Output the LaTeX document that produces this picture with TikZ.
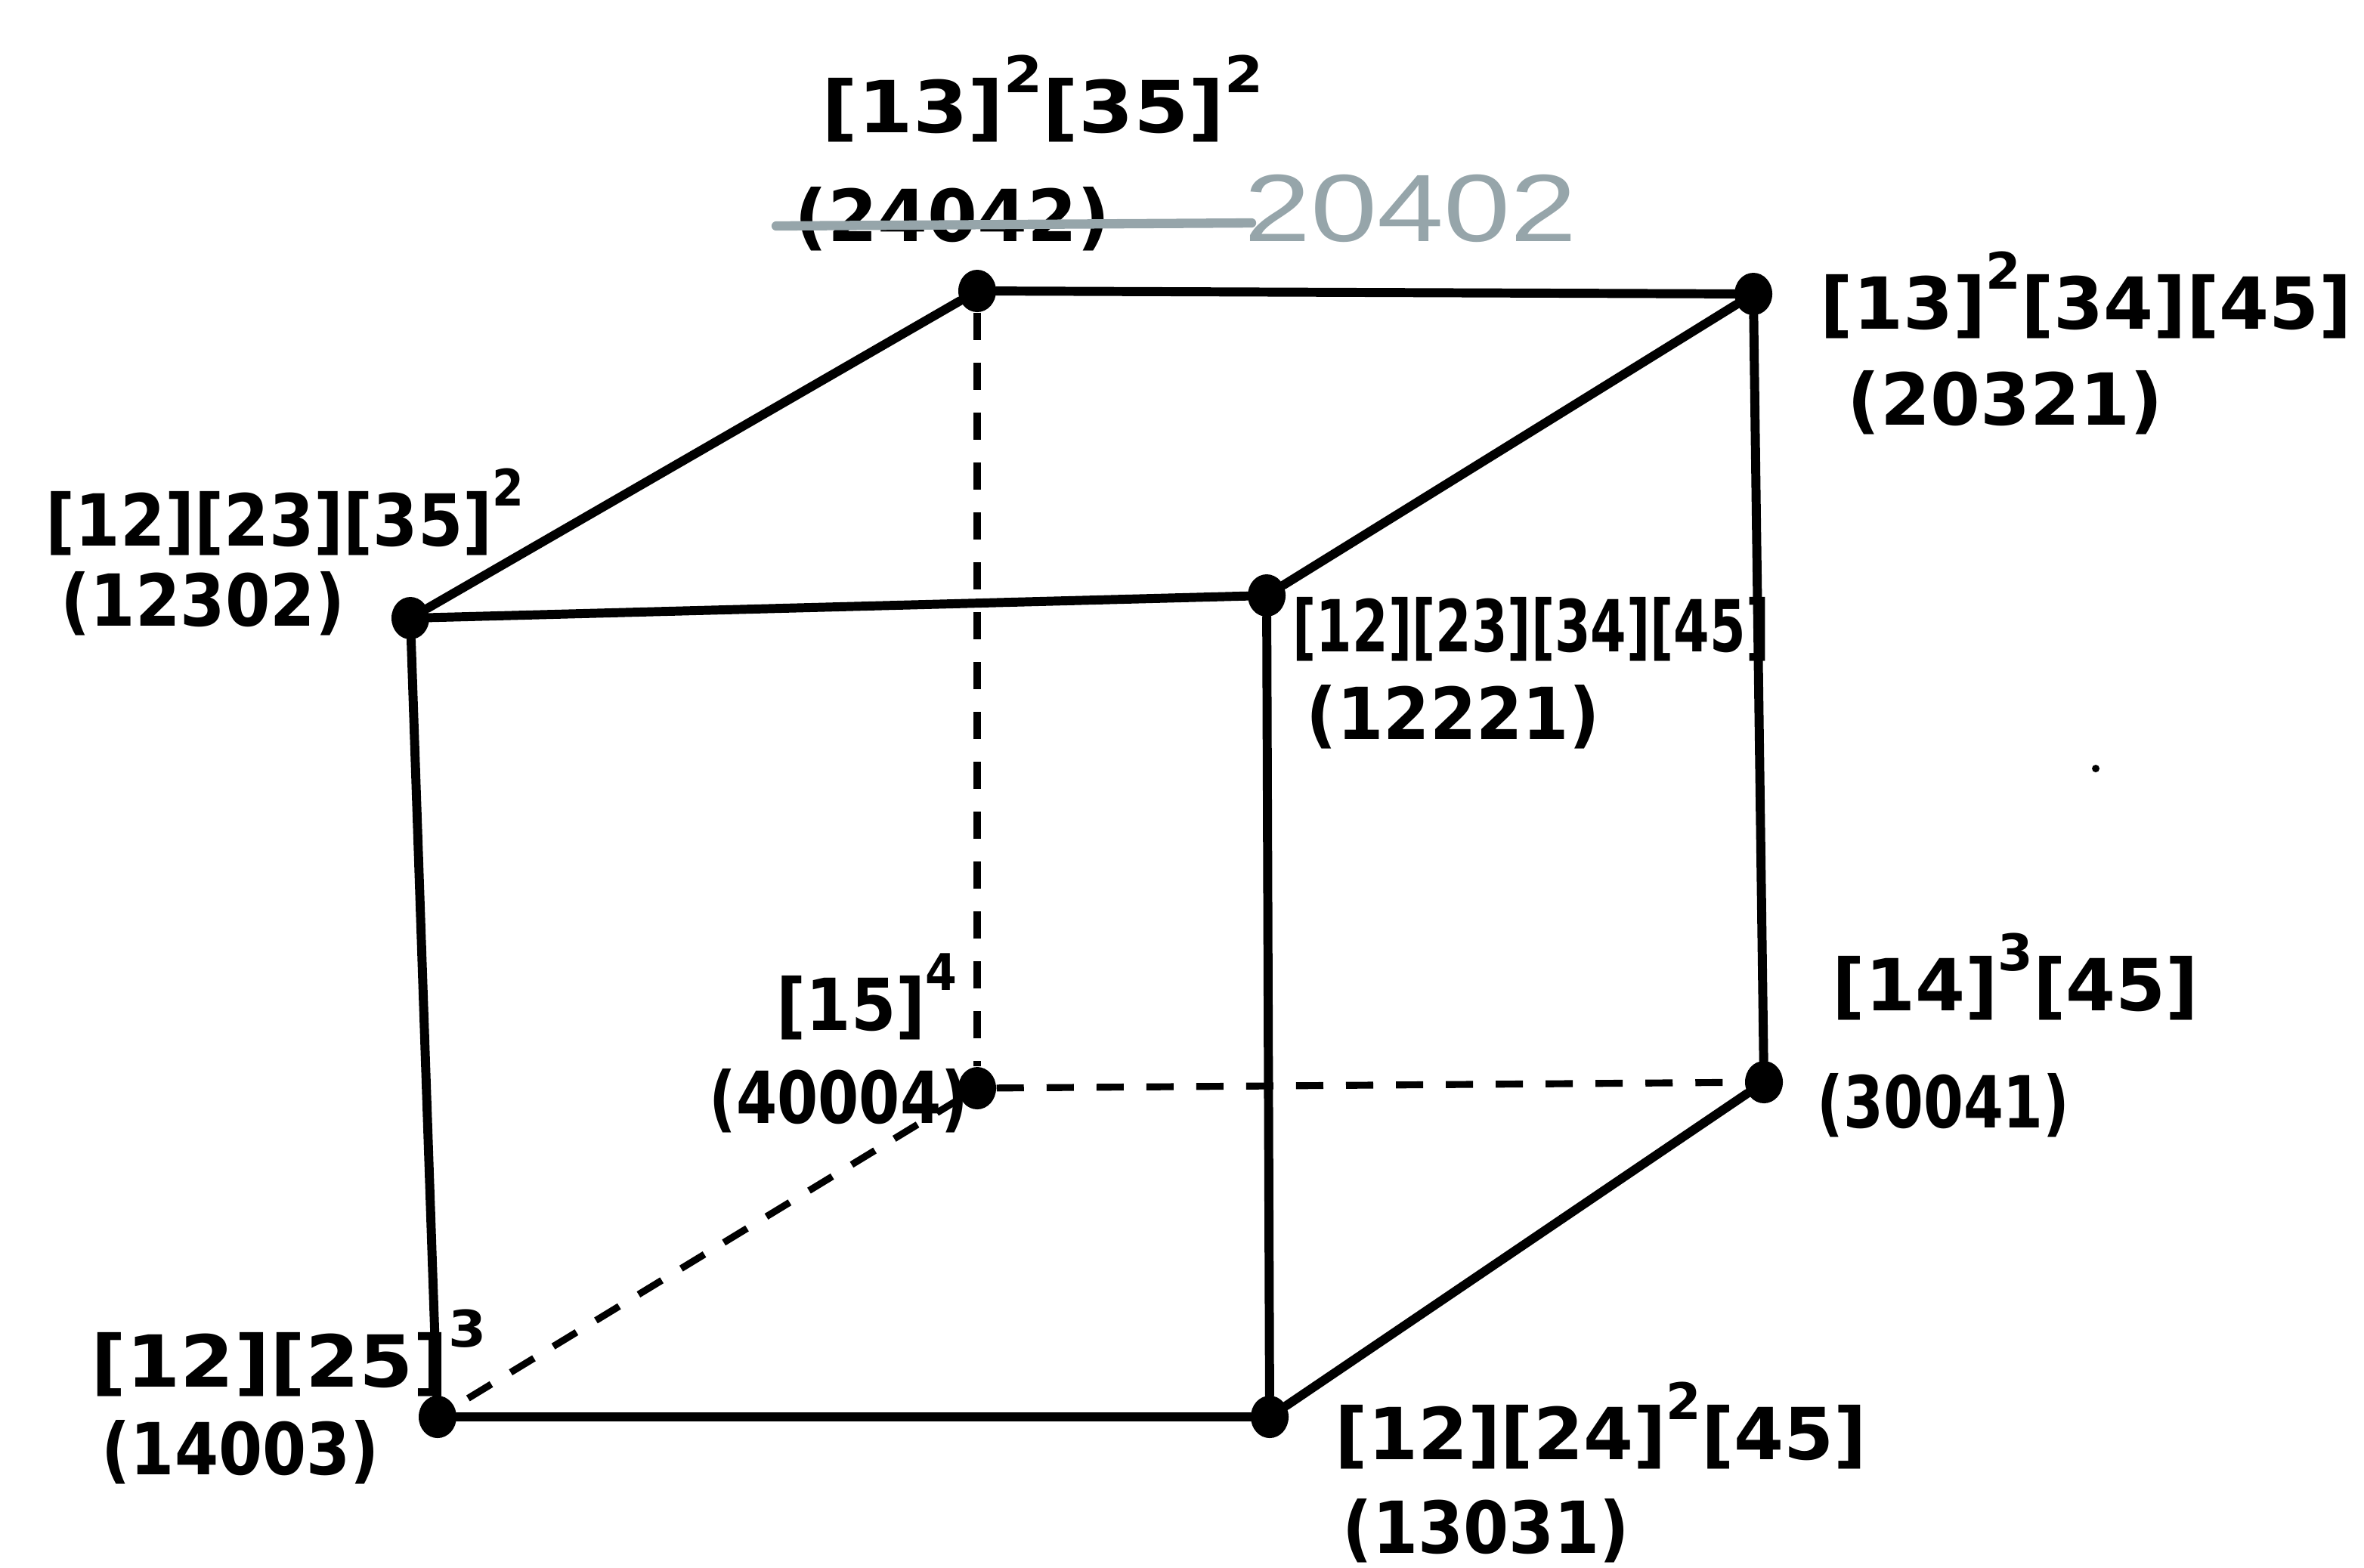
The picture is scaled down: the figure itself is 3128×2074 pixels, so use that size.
\documentclass[tikz,border=0pt]{standalone}
\usepackage{fontspec}
\usetikzlibrary{shapes.geometric}
\setmainfont{DejaVu Sans}
\newfontfamily\grayfont{Liberation Sans}
\newcommand\pw[1]{\raisebox{0.55em}{\fontsize{19}{19}\selectfont #1}}
\newcommand\sx[2]{\scalebox{#1}[1]{#2}}
\definecolor{pencil}{RGB}{150,165,170}
\begin{document}
\begin{tikzpicture}[x=0.01cm,y=-0.01cm,
  vtx/.style={ellipse,fill=black,inner sep=0pt,minimum width=0.5cm,minimum height=0.56cm},
  edge/.style={line width=3.4pt,line cap=round},
  hidden/.style={line width=2.6pt,dash pattern=on 0.36cm off 0.3cm},
  lbl/.style={anchor=base west,inner sep=0pt,font=\fontsize{27}{30}\selectfont\bfseries}]
\useasboundingbox (0,0) rectangle (3128,2074);
% vertices
\node[vtx] (tbl) at (1293,385) {};
\node[vtx] (tbr) at (2320,389) {};
\node[vtx] (ftl) at (543,818) {};
\node[vtx] (ftr) at (1676,788) {};
\node[vtx] (bbl) at (1293,1440) {};
\node[vtx] (bbr) at (2334,1432) {};
\node[vtx] (fbl) at (579,1875) {};
\node[vtx] (fbr) at (1680,1875) {};
\node[circle,fill=black,inner sep=0pt,minimum size=0.1cm] (speck) at (2773,1017) {};
% solid edges
\draw[edge] (tbl) -- (tbr);
\draw[edge] (tbl) -- (ftl);
\draw[edge] (ftl) -- (ftr);
\draw[edge] (ftr) -- (tbr);
\draw[edge] (tbr) -- (bbr);
\draw[edge] (ftl) -- (fbl);
\draw[edge] (ftr) -- (fbr);
\draw[edge] (fbl) -- (fbr);
\draw[edge] (fbr) -- (bbr);
% hidden edges
\draw[hidden] (tbl) -- (bbl);
\draw[hidden] (bbl) -- (bbr);
\draw[hidden] (bbl) -- (fbl);
% labels
\node[lbl] (tbl1) at (1087,175) {\sx{1.1}{[13]\pw{2}[35]\pw{2}}};
\node[lbl] (tbl2) at (1051,319) {(24042)};
\coordinate (sa) at (1027,299);
\coordinate (sb) at (1656,295);
\draw[pencil,line width=3.5pt,line cap=round] (sa) -- (sb);
\node[anchor=base west,inner sep=0pt,text=pencil,font=\grayfont\fontsize{36}{40}\selectfont] (corr) at (1646,319) {\scalebox{1.25}[1]{20402}};
\node[lbl] (tbr1) at (2408,435) {[13]\pw{2}[34][45]};
\node[lbl] (tbr2) at (2444,562) {(20321)};
\node[lbl] (ftl1) at (60,722) {\sx{0.9}{[12][23][35]\pw{2}}};
\node[lbl] (ftl2) at (80,828) {\sx{0.9}{(12302)}};
\node[lbl] (ftr1) at (1710,862) {\sx{0.72}{[12][23][34][45]}};
\node[lbl] (ftr2) at (1728,978) {\sx{0.93}{(12221)}};
\node[lbl] (bbl1) at (1027,1363) {\sx{0.9}{[15]\pw{4}}};
\node[lbl] (bbl2) at (938,1486) {\sx{0.82}{(40004)}};
\node[lbl] (bbr1) at (2424,1337) {[14]\pw{3}[45]};
\node[lbl] (bbr2) at (2404,1492) {\sx{0.8}{(30041)}};
\node[lbl] (fbl1) at (120,1835) {\sx{1.08}{[12][25]\pw{3}}};
\node[lbl] (fbl2) at (134,1951) {\sx{0.88}{(14003)}};
\node[lbl] (fbr1) at (1766,1931) {[12][24]\pw{2}[45]};
\node[lbl] (fbr2) at (1776,2055) {\sx{0.91}{(13031)}};
\end{tikzpicture}
\end{document}
